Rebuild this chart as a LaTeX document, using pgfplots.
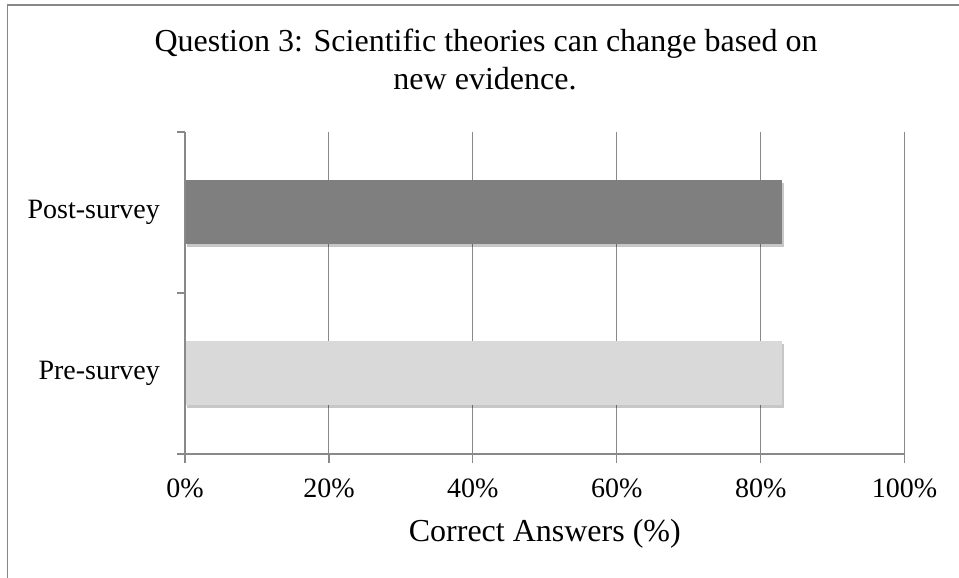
\documentclass[border=0pt]{standalone}
\usepackage{fontspec}
\setmainfont{Liberation Serif}
\usepackage{pgfplots}
\pgfplotsset{compat=1.18}
\usetikzlibrary{shadows}
\definecolor{gridgray}{HTML}{898989}
\definecolor{framegray}{HTML}{878787}
\definecolor{postgray}{HTML}{7F7F7F}
\definecolor{pregray}{HTML}{D9D9D9}
\begin{document}
\begin{tikzpicture}
\path[use as bounding box] (0,0) rectangle (959bp,578bp);
\draw[framegray, line width=1.5bp] (7.3bp,0) -- (7.3bp,573bp) -- (959bp,573bp);
\begin{axis}[
  at={(185bp,124bp)}, anchor=south west,
  scale only axis, width=719.6bp, height=322bp,
  xmin=0, xmax=100, ymin=-0.5, ymax=1.5,
  axis line style={draw=none},
  xtick={0,20,40,60,80,100},
  xticklabels={0\%,20\%,40\%,60\%,80\%,100\%},
  xmajorgrids,
  grid style={draw=gridgray, line width=1bp},
  xtick pos=bottom, ytick pos=left,
  tick align=outside,
  major tick length=9bp,
  minor tick length=8bp,
  every tick/.style={draw=gridgray, line width=1.2bp},
  ytick={0,1},
  yticklabels={Pre-survey,Post-survey},
  major y tick style={draw=none},
  minor ytick={-0.5,0.5,1.5},
  major x tick style={draw=gridgray, line width=1.2bp},
  xticklabel style={font=\fontsize{28bp}{30bp}\selectfont, anchor=north, inner sep=0pt},
  xticklabel shift=16bp,
  yticklabel style={font=\fontsize{28bp}{30bp}\selectfont, anchor=east, inner sep=0pt},
  yticklabel shift=16bp,
  xlabel={Correct Answers (\%)},
  xlabel style={font=\fontsize{32bp}{36bp}\selectfont, at={(axis description cs:0.5,0)}, anchor=base, yshift=-87bp, inner sep=0pt},
  clip=false,
  extra description/.code={
    \draw[gridgray, line width=1.2bp] (rel axis cs:0,1) -- (rel axis cs:0,0) -- (rel axis cs:1,0);
  },
]
\addplot[xbar, bar width=64bp, bar shift=0pt, fill=pregray, draw=none,
  drop shadow={shadow xshift=1.5bp, shadow yshift=-3bp, opacity=0.22, fill=black}]
  coordinates {(83,0)};
\addplot[xbar, bar width=64bp, bar shift=0pt, fill=postgray, draw=none,
  drop shadow={shadow xshift=1.5bp, shadow yshift=-3bp, opacity=0.22, fill=black}]
  coordinates {(83,1)};
\end{axis}
\node[anchor=base, inner sep=0pt, font=\fontsize{32bp}{36bp}\selectfont] at (486bp,526bp) {Question 3: Scientific theories can change based on};
\node[anchor=base, inner sep=0pt, font=\fontsize{32bp}{36bp}\selectfont] at (485bp,488bp) {new evidence.};
\end{tikzpicture}
\end{document}
